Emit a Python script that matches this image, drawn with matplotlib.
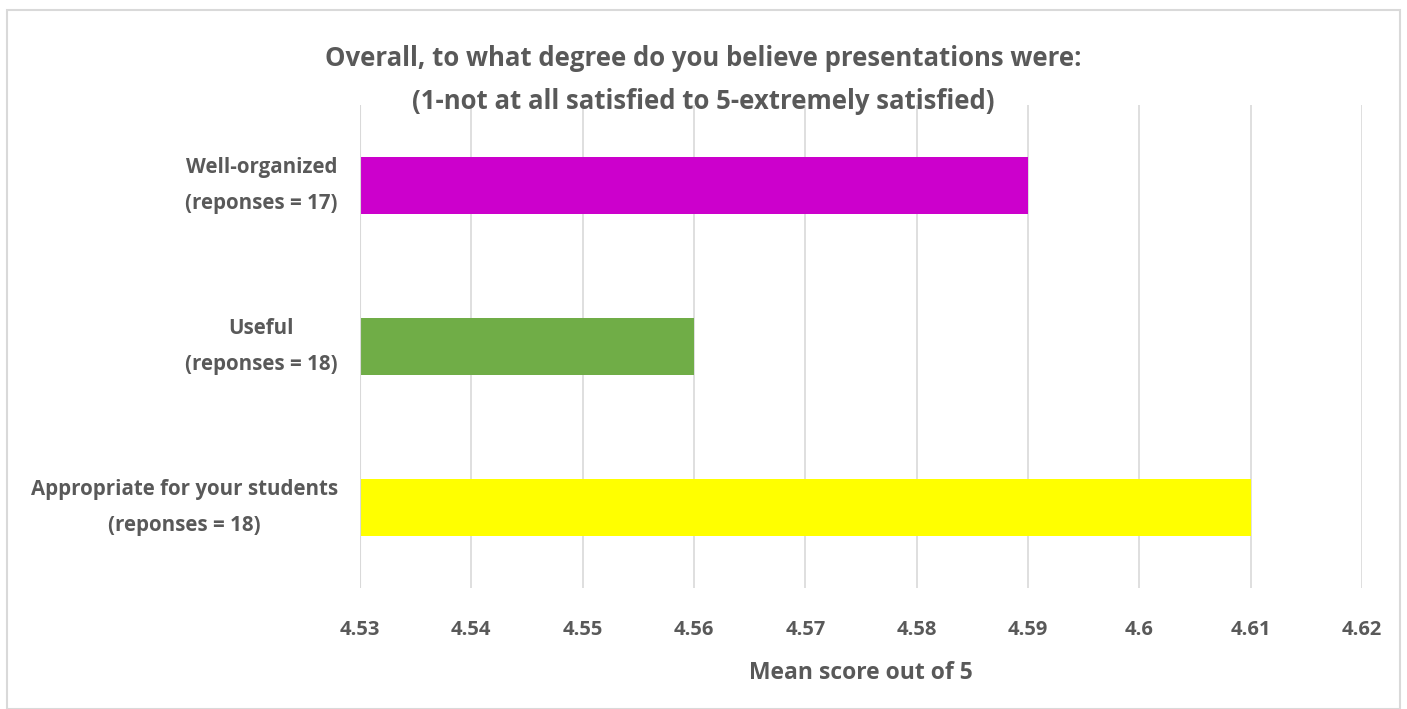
import matplotlib
matplotlib.use("Agg")
import matplotlib.pyplot as plt
from matplotlib.patches import Rectangle
from matplotlib import font_manager

categories = ["Well-organized\n(reponses = 17)", "Useful\n(reponses = 18)",
              "Appropriate for your students\n(reponses = 18)"]
values = [4.59, 4.56, 4.61]
colors = ["#CC00CC", "#70AD47", "#FFFF00"]
xticks = [4.53, 4.54, 4.55, 4.56, 4.57, 4.58, 4.59, 4.60, 4.61, 4.62]
xtick_labels = ["4.53", "4.54", "4.55", "4.56", "4.57", "4.58", "4.59", "4.6", "4.61", "4.62"]
title = "Overall, to what degree do you believe presentations were:\n(1-not at all satisfied to 5-extremely satisfied)"
xlabel = "Mean score out of 5"

avail = {f.name for f in font_manager.fontManager.ttflist}
fam = [f for f in ["Liberation Sans Narrow", "Open Sans", "DejaVu Sans"] if f in avail]
plt.rcParams['font.family'] = fam
txt = "#595959"

fig = plt.figure(figsize=(14.07, 7.09), dpi=100)
fig.patches.append(Rectangle((7/1407, 0.0), 1393/1407, 1 - 10/709, transform=fig.transFigure,
                             fill=False, edgecolor="#D9D9D9", linewidth=1.5))
ax = fig.add_axes([360/1407, 1 - 588/709, 1002/1407, 483/709])

base = xticks[0]
ypos = list(range(len(categories)))
ax.barh(ypos, [v - base for v in values], left=base, height=0.35, color=colors, zorder=3)
ax.set_ylim(2.5, -0.5)
ax.set_xlim(xticks[0], xticks[-1])
ax.set_xticks(xticks)
ax.set_xticklabels(xtick_labels, fontsize=14.5, fontweight="bold", color=txt)
ax.set_yticks(ypos)
ax.set_yticklabels(categories, fontsize=14.8, fontweight="bold", color=txt, ha="right",
                   multialignment="center", va="center", linespacing=1.95)
for lbl in ax.get_yticklabels():
    lbl.set_y(lbl.get_position()[1])
ax.tick_params(axis="y", length=0, pad=16)
ax.tick_params(axis="x", length=0, pad=23)
ax.grid(axis="x", color="#D9D9D9", linewidth=1.2, zorder=0)
for s in ax.spines.values():
    s.set_visible(False)
ax.axvline(xticks[0], color="#D9D9D9", linewidth=1.5, zorder=4)
ax.set_xlabel(xlabel, fontsize=16.5, fontweight="bold", color=txt, labelpad=15)
fig.text(0.5, 1 - 80/709, title, ha="center", va="center", fontsize=18.5, fontweight="bold",
         color=txt, linespacing=1.75)
fig.savefig("out.png", dpi=100)
